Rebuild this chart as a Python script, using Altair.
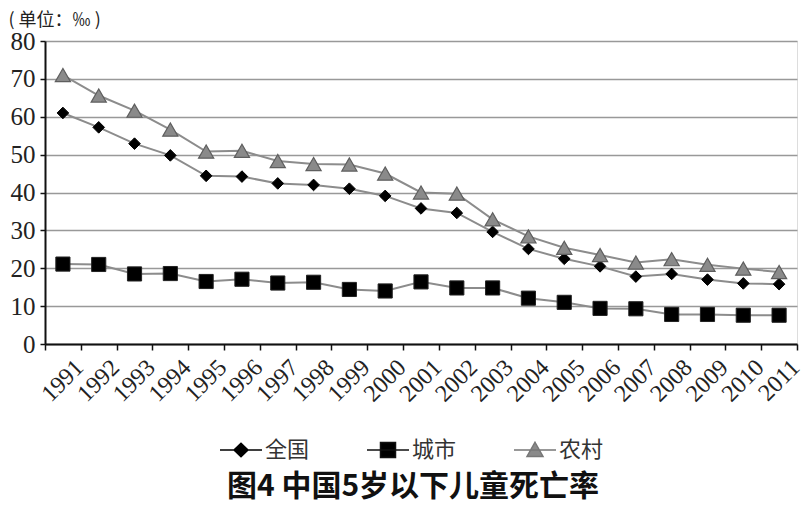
import altair as alt
import pandas as pd

years = ["1991", "1992", "1993", "1994", "1995", "1996", "1997", "1998", "1999", "2000",
         "2001", "2002", "2003", "2004", "2005", "2006", "2007", "2008", "2009", "2010", "2011"]
national = [61.0, 57.2, 52.9, 49.8, 44.4, 44.2, 42.4, 42.0, 41.0, 39.1,
            35.8, 34.6, 29.6, 25.1, 22.5, 20.5, 17.8, 18.5, 17.0, 16.0, 15.8]
urban = [21.1, 21.0, 18.5, 18.6, 16.5, 17.1, 16.1, 16.3, 14.4, 14.0,
         16.4, 14.8, 14.8, 12.1, 11.0, 9.4, 9.3, 7.8, 7.8, 7.6, 7.6]
rural = [71.0, 65.6, 61.6, 56.6, 50.8, 51.0, 48.3, 47.5, 47.4, 45.0,
         40.0, 39.7, 32.9, 28.4, 25.4, 23.5, 21.5, 22.4, 20.9, 19.9, 19.0]
series_names = ["全国", "城市", "农村"]
y_ticks = [0, 10, 20, 30, 40, 50, 60, 70, 80]

rows = []
for name, vals in zip(series_names, [national, urban, rural]):
    for yr, v in zip(years, vals):
        rows.append({"year": yr, "value": v, "series": name})
df = pd.DataFrame(rows)

serif = "Liberation Serif"
cjk = "Noto Sans CJK SC"

base = alt.Chart(df).encode(
    x=alt.X("year:N", sort=years,
            scale=alt.Scale(type="band", paddingInner=0, paddingOuter=0),
            axis=alt.Axis(title=None, labelAngle=-45, labelFont=serif, labelFontSize=24,
                          labelColor="#222", tickBand="extent", tickSize=6, tickColor="#111",
                          tickWidth=1.5, domainColor="#111", domainWidth=2, grid=False,
                          labelPadding=5, labelOffset=8)),
    y=alt.Y("value:Q", scale=alt.Scale(domain=[0, 80], nice=False),
            axis=alt.Axis(values=y_ticks, title="( 单位：‰ )", titleAngle=0, titleX=-37, titleY=-21,
                          titleAlign="left", titleBaseline="middle", titleFont=cjk,
                          titleFontSize=18, titleFontWeight="normal", titleColor="#222",
                          labelFont=serif, labelFontSize=25, labelColor="#222", tickSize=5,
                          tickColor="#111", tickWidth=1.5, domainColor="#111", domainWidth=2,
                          gridColor="#999", gridWidth=1.5, labelPadding=5)),
)

lines = base.mark_line(stroke="#8c8c8c", strokeWidth=2).encode(detail="series:N")

pts_n = base.transform_filter(alt.datum.series == "全国").mark_point(
    shape="diamond", filled=True, fill="#000", stroke="#000", strokeWidth=1, size=135, opacity=1)
pts_u = base.transform_filter(alt.datum.series == "城市").mark_point(
    shape="square", filled=True, fill="#000", stroke="#222", strokeWidth=1, size=200, opacity=1)
pts_r = base.transform_filter(alt.datum.series == "农村").mark_point(
    shape="triangle-up", filled=True, fill="#8a8a8a", stroke="#5e5e5e", strokeWidth=1.2, size=230, opacity=1)

legend_paths = [
    "M-4.2,0H4.2M0,-1.35L1.4,0L0,1.35L-1.4,0Z",
    "M-4.2,0H4.2M-1.5,-1.5H1.5V1.5H-1.5Z",
    "M-4.2,0H4.2M0,-1.55L1.6,1.3H-1.6Z",
]
leg = alt.Legend(title=None, orient="none", legendX=185, legendY=398, direction="horizontal",
                 columns=3, symbolSize=100, symbolStrokeWidth=1.5, symbolOpacity=1,
                 labelFont=cjk, labelFontSize=22, labelColor="#333", labelOffset=13,
                 columnPadding=54, padding=0)

legend_layer = base.mark_point(filled=True, opacity=0, size=100).encode(
    shape=alt.Shape("series:N", sort=series_names,
                    scale=alt.Scale(domain=series_names, range=legend_paths), legend=leg),
    fill=alt.Fill("series:N", sort=series_names,
                  scale=alt.Scale(domain=series_names, range=["#000", "#000", "#8a8a8a"]), legend=leg),
    stroke=alt.Stroke("series:N", sort=series_names,
                      scale=alt.Scale(domain=series_names, range=["#000", "#111", "#777"]), legend=leg),
)

chart = alt.layer(lines, pts_n, pts_u, pts_r, legend_layer).properties(
    width=752, height=303,
    autosize=alt.AutoSizeParams(type="none"),
    padding={"left": 37, "top": 33, "right": 7, "bottom": 160},
    title=alt.TitleParams("图4 中国5岁以下儿童死亡率", orient="bottom", anchor="middle",
                          font=cjk, fontSize=30, fontWeight="bold", color="#111",
                          offset=11, dx=-8),
).configure_view(stroke="#555", strokeWidth=2).configure(background="white")

chart.save("out.html", embed_options={"renderer": "svg", "actions": False})
